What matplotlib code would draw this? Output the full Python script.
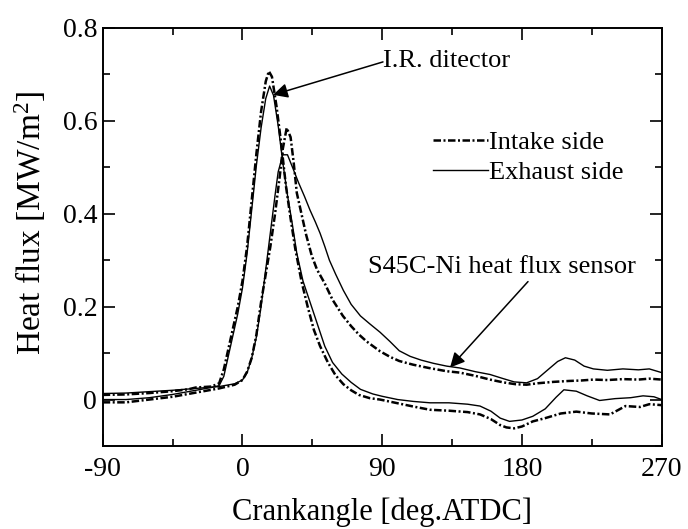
import matplotlib
matplotlib.use("Agg")
import matplotlib.pyplot as plt

plt.rcParams['font.family'] = ['Liberation Serif', 'DejaVu Serif']
plt.rcParams['mathtext.fontset'] = 'custom'
plt.rcParams['mathtext.rm'] = 'Liberation Serif'
plt.rcParams['mathtext.it'] = 'Liberation Serif:italic'

# ---- data (crank angle [deg ATDC], heat flux [MW/m^2]) ----
ir_in_x = [-90, -75, -60, -45, -35, -30, -25, -20, -15, -12, -9, -6, -3, 0, 3, 6, 9, 12, 15, 17, 19, 22, 25,
           28, 31, 34, 38, 42, 46, 50, 55, 60, 65, 70, 75, 82, 88.6, 100, 110, 120.8, 133, 145, 153, 160, 166,
           170, 175, 180, 187, 195, 205, 215, 225, 236.7, 246.7, 256, 262, 270]
ir_in_y = [0.010, 0.011, 0.014, 0.018, 0.022, 0.026, 0.027, 0.028, 0.035, 0.065, 0.11, 0.155, 0.20, 0.255,
           0.33, 0.43, 0.53, 0.62, 0.685, 0.707, 0.695, 0.63, 0.55, 0.46, 0.39, 0.325, 0.255, 0.20, 0.15,
           0.115, 0.08, 0.052, 0.033, 0.02, 0.01, 0.003, 0.0, -0.008, -0.015, -0.022, -0.024, -0.027, -0.032,
           -0.042, -0.055, -0.060, -0.062, -0.058, -0.047, -0.040, -0.030, -0.026, -0.030, -0.032, -0.014,
           -0.016, -0.010, -0.012]

ir_ex_x = [-90, -75, -60, -45, -30, -20, -15, -12, -9, -6, -3, 0, 3, 6, 9, 12, 15, 17.5, 20, 23, 26, 29, 32,
           35, 39, 44, 48, 53, 58, 64, 70, 76, 84, 90, 100, 110, 120.8, 133, 145, 153, 160, 166, 172, 180,
           187, 195, 202, 207, 215, 222, 230, 240, 250, 258, 265, 270]
ir_ex_y = [0.0, 0.0, 0.004, 0.011, 0.020, 0.026, 0.030, 0.05, 0.095, 0.14, 0.185, 0.24, 0.315, 0.41, 0.505,
           0.585, 0.648, 0.675, 0.655, 0.59, 0.51, 0.44, 0.38, 0.315, 0.255, 0.205, 0.165, 0.115, 0.08,
           0.055, 0.037, 0.022, 0.012, 0.007, 0.0, -0.004, -0.007, -0.007, -0.010, -0.014, -0.025, -0.040,
           -0.047, -0.044, -0.036, -0.020, 0.005, 0.021, 0.018, 0.008, -0.002, 0.002, 0.004, 0.008, 0.006, 0.0]

s_in_x = [-90, -75, -60, -45, -30, -15, -5, 0, 3, 6, 9, 12, 15, 18, 21, 24, 26, 28.5, 31, 33, 35, 38, 41,
          44.6, 48, 53, 58, 64.7, 70, 75, 80, 88.6, 95, 101, 110, 120, 131.5, 140, 150, 159.4, 168, 176, 183,
          190, 200, 210, 218, 226, 235, 245, 255, 262, 270]
s_in_y = [-0.006, -0.006, 0.0, 0.006, 0.015, 0.024, 0.032, 0.042, 0.06, 0.09, 0.14, 0.21, 0.27, 0.33, 0.40,
          0.48, 0.54, 0.585, 0.565, 0.51, 0.445, 0.40, 0.355, 0.31, 0.28, 0.25, 0.215, 0.18, 0.158, 0.14,
          0.125, 0.104, 0.092, 0.083, 0.075, 0.068, 0.061, 0.058, 0.051, 0.043, 0.037, 0.033, 0.032, 0.035,
          0.038, 0.040, 0.041, 0.043, 0.042, 0.044, 0.043, 0.045, 0.043]

s_ex_x = [-90, -75, -60, -45, -30, -15, -5, 0, 3, 6, 9, 12, 15, 18, 21, 23, 26, 29, 32.6, 36, 40, 43.5, 47,
          50, 53, 56, 60, 65, 70, 76, 82, 88.6, 95, 101, 108, 115, 123, 131.5, 140, 150, 159.4, 168, 175,
          183, 190, 197, 203, 208, 214, 220, 226, 235, 245, 255, 262, 270]
s_ex_y = [0.013, 0.014, 0.017, 0.020, 0.024, 0.028, 0.034, 0.042, 0.058, 0.09, 0.135, 0.20, 0.28, 0.36,
          0.44, 0.49, 0.527, 0.527, 0.497, 0.468, 0.437, 0.408, 0.382, 0.358, 0.33, 0.30, 0.27, 0.235, 0.205,
          0.18, 0.163, 0.145, 0.125, 0.105, 0.093, 0.085, 0.078, 0.072, 0.068, 0.060, 0.054, 0.045, 0.038,
          0.036, 0.045, 0.065, 0.082, 0.090, 0.085, 0.072, 0.066, 0.063, 0.066, 0.064, 0.066, 0.058]

x_ticks = [-90, 0, 90, 180, 270]
x_tick_labels = ['-90', '0', '90', '180', '270']
y_ticks = [0, 0.2, 0.4, 0.6, 0.8]
y_tick_labels = ['0', '0.2', '0.4', '0.6', '0.8']

# ---- figure ----
fig = plt.figure(figsize=(6.88, 5.29), dpi=100)
ax = fig.add_axes([102.7 / 688, 1 - 446 / 529, (661.7 - 102.7) / 688, (446 - 28) / 529])

dd = dict(color='black', lw=1.8, linestyle=(0, (3.0, 1.0, 0.8, 1.0)))
sl = dict(color='black', lw=1.0, linestyle='-')

ax.plot(ir_in_x, ir_in_y, label='Intake side', **dd)
ax.plot(ir_ex_x, ir_ex_y, label='Exhaust side', **sl)
ax.plot(s_in_x, s_in_y, **dd)
ax.plot(s_ex_x, s_ex_y, **sl)

ax.set_xlim(-90, 270)
ax.set_ylim(-0.1, 0.8)
ax.set_xticks(x_ticks)
ax.set_xticklabels(x_tick_labels)
ax.set_xticks([-45, 45, 135, 225], minor=True)
ax.set_yticks(y_ticks)
ax.set_yticklabels(y_tick_labels)
ax.set_yticks([-0.1, 0.1, 0.3, 0.5, 0.7], minor=True)

ax.tick_params(which='both', direction='in', top=True, right=True, width=1.2, labelsize=20)
ax.tick_params(which='major', length=8.5)
ax.tick_params(which='minor', length=5)
ax.tick_params(axis='x', which='major', pad=8)
ax.tick_params(axis='y', which='major', pad=4)
for s in ax.spines.values():
    s.set_linewidth(1.4)

ax.set_xlabel('Crankangle [deg.ATDC]', fontsize=22, labelpad=11)
ax.set_ylabel(r'Heat flux [MW/m$^2$]', fontsize=24)
ax.yaxis.set_label_coords(-0.098, 0.535)

# annotations
arrow_kw = dict(arrowstyle='-|>', color='black', lw=1.1, mutation_scale=22, shrinkA=0, shrinkB=0)
ax.annotate('', xy=(19.7, 0.656), xytext=(90.5, 0.727), arrowprops=arrow_kw)
ax.text(90.5, 0.728, 'I.R. ditector', fontsize=19, ha='left', va='center')

ax.annotate('', xy=(133.7, 0.069), xytext=(183.9, 0.254), arrowprops=arrow_kw)
ax.text(167.3, 0.286, 'S45C-Ni heat flux sensor', fontsize=19, ha='center', va='center')

leg = ax.legend(loc='upper left', bbox_to_anchor=(0.590, 0.754), frameon=False, fontsize=19,
                handlelength=2.1, handletextpad=0.05, labelspacing=0.24, borderpad=0, borderaxespad=0)

fig.savefig('out.png', dpi=100)
